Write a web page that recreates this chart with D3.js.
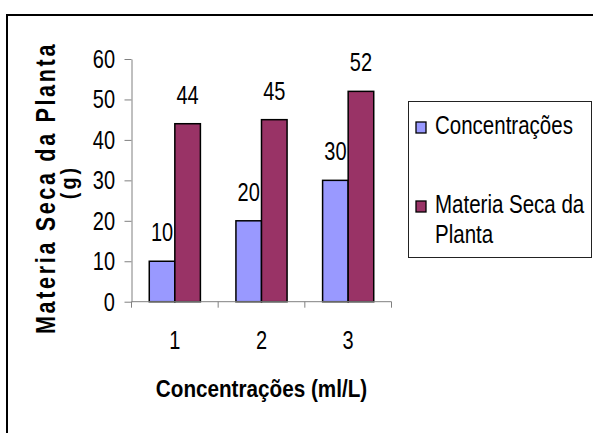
<!DOCTYPE html>
<html>
<head>
<meta charset="utf-8">
<script src="https://cdn.jsdelivr.net/npm/d3@7"></script>
<style>
  html, body { margin: 0; padding: 0; background: #fff; }
  svg { display: block; }
  text { font-family: "Liberation Sans", Arial, sans-serif; fill: #000; }
</style>
</head>
<body>
<svg id="chart" width="593" height="433"></svg>
<script>
// ---- data ----
const categories = ["1", "2", "3"];
const seriesNames = ["Concentrações", "Materia Seca da Planta"];
const concentracoes = [10, 20, 30];
const materiaSeca = [44, 45, 52];
const yTicks = [0, 10, 20, 30, 40, 50, 60];
const colors = ["#9999FF", "#993366"];
const xTitle = "Concentrações (ml/L)";
const yTitleLines = ["Materia Seca da Planta", "(g)"];
const legendLines = [["Concentrações"], ["Materia Seca da", "Planta"]];

const seriesValues = [concentracoes, materiaSeca];
const svg = d3.select("#chart");

// outer frame (top and left edges visible)
svg.append("path")
  .attr("d", "M7,433 L7,15 L593,15")
  .attr("fill", "none").attr("stroke", "#000").attr("stroke-width", 2);

// scales
const plotLeft = 131.5, plotRight = 391.5, plotTop = 59, plotBottom = 301.7;
const x0 = d3.scaleBand().domain(categories).range([plotLeft, plotRight])
  .paddingInner(0.41).paddingOuter(0.205);
const x1 = d3.scaleBand().domain(seriesNames).range([0, x0.bandwidth()]);
const y = d3.scaleLinear().domain([0, 60]).range([plotBottom, plotTop]);

// y axis
const yAxis = svg.append("g").attr("transform", `translate(${plotLeft},0)`)
  .call(d3.axisLeft(y).tickValues(yTicks).tickSize(7).tickSizeOuter(0).tickFormat(""));
yAxis.selectAll("path, line").attr("stroke", "#808080").attr("stroke-width", 1);

// y tick labels
svg.append("g").selectAll("text").data(yTicks).join("text")
  .attr("transform", d => `translate(115,${y(d) + 8.8}) scale(0.8,1)`)
  .attr("text-anchor", "end")
  .style("font-size", "25px")
  .text(d => d);

// bars
const groups = svg.append("g").selectAll("g").data(categories).join("g")
  .attr("transform", c => `translate(${x0(c)},0)`);
groups.selectAll("rect")
  .data((c, i) => seriesNames.map((s, j) => ({ s, j, v: seriesValues[j][i] })))
  .join("rect")
  .attr("x", d => x1(d.s))
  .attr("y", d => y(d.v))
  .attr("width", x1.bandwidth())
  .attr("height", d => y(0) - y(d.v))
  .attr("fill", d => colors[d.j])
  .attr("stroke", "#000").attr("stroke-width", 1.5);

// value labels
groups.selectAll("text")
  .data((c, i) => seriesNames.map((s, j) => ({ s, j, v: seriesValues[j][i] })))
  .join("text")
  .attr("transform", d => `translate(${x1(d.s) + x1.bandwidth() / 2},${y(d.v) - 20}) scale(0.8,1)`)
  .attr("text-anchor", "middle")
  .style("font-size", "25px")
  .text(d => d.v);

// x axis line and boundary ticks
const step = x0.step();
const gap = step - x0.bandwidth();
const boundaries = categories.map(c => x0(c) - gap / 2).concat([plotRight]);
const xAxisG = svg.append("g");
xAxisG.append("line")
  .attr("x1", plotLeft).attr("x2", plotRight)
  .attr("y1", y(0)).attr("y2", y(0))
  .attr("stroke", "#808080").attr("stroke-width", 1);
xAxisG.selectAll("line.tick").data(boundaries).join("line")
  .attr("class", "tick")
  .attr("x1", d => d).attr("x2", d => d)
  .attr("y1", y(0)).attr("y2", y(0) + 6)
  .attr("stroke", "#808080").attr("stroke-width", 1);

// x tick labels
svg.append("g").selectAll("text").data(categories).join("text")
  .attr("transform", c => `translate(${x0(c) + x0.bandwidth() / 2},349) scale(0.8,1)`)
  .attr("text-anchor", "middle")
  .style("font-size", "25px")
  .text(c => c);

// x title
svg.append("text")
  .attr("transform", `translate(${(plotLeft + plotRight) / 2},397) scale(0.88,1)`)
  .attr("text-anchor", "middle")
  .style("font-size", "23.5px").style("font-weight", "bold")
  .text(xTitle);

// y title
svg.append("text")
  .attr("transform", `translate(55,188) rotate(-90) scale(0.8,1)`)
  .attr("text-anchor", "middle")
  .style("font-size", "27px").style("font-weight", "bold")
  .style("letter-spacing", "3.3px")
  .text(yTitleLines[0]);
svg.append("text")
  .attr("transform", `translate(76,182) rotate(-90) scale(0.9,1)`)
  .attr("text-anchor", "middle")
  .style("font-size", "22px").style("font-weight", "bold")
  .style("letter-spacing", "3.5px")
  .text(yTitleLines[1]);

// legend
const legend = svg.append("g");
legend.append("rect")
  .attr("x", 408.5).attr("y", 101.5).attr("width", 183).attr("height", 156)
  .attr("fill", "#fff").attr("stroke", "#222").attr("stroke-width", 1);
const legendBaselines = [134, 213];
const legendItems = legend.selectAll("g.item").data(seriesNames).join("g")
  .attr("class", "item");
legendItems.append("rect")
  .attr("x", 416).attr("y", (d, i) => legendBaselines[i] - 12)
  .attr("width", 10).attr("height", 11)
  .attr("fill", (d, i) => colors[i]).attr("stroke", "#000").attr("stroke-width", 1.3);
legendItems.each(function (d, i) {
  d3.select(this).selectAll("text").data(legendLines[i]).join("text")
    .attr("transform", (t, k) => `translate(435,${legendBaselines[i] + k * 30}) scale(0.82,1)`)
    .style("font-size", "25px")
    .text(t => t);
});
</script>
</body>
</html>
